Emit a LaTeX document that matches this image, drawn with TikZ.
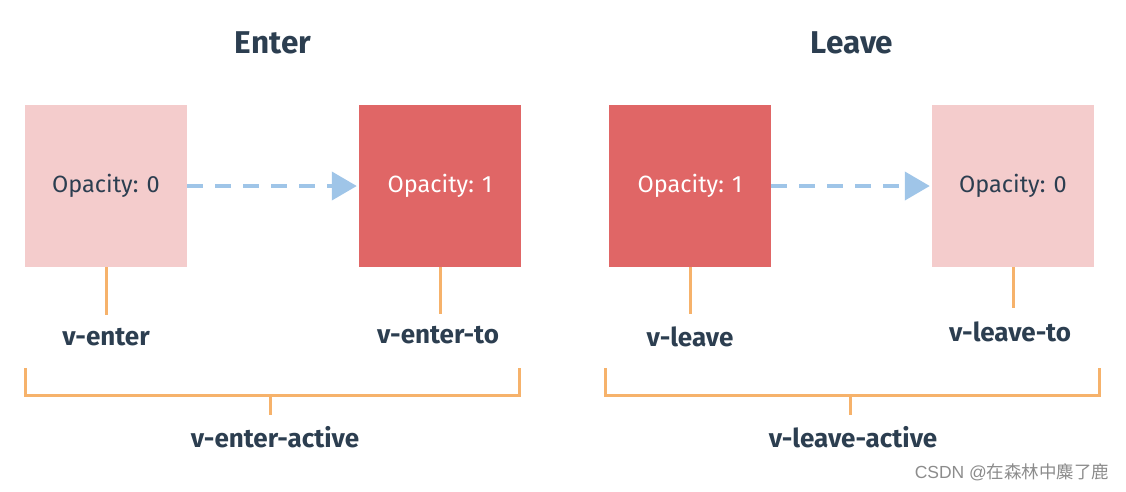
\documentclass[tikz,border=0pt]{standalone}
\usepackage{fontspec}
\setmainfont{Fira Sans}
\newfontfamily\cjk{Noto Sans CJK SC}
\newfontfamily\wmlatin{Liberation Sans}
\usetikzlibrary{arrows.meta}
\definecolor{navy}{HTML}{2C3E50}
\definecolor{lightpink}{HTML}{F4CCCC}
\definecolor{redbox}{HTML}{E06666}
\definecolor{blueline}{HTML}{9FC5E8}
\definecolor{orangeline}{HTML}{F6B26B}
\tikzset{
  boxlight/.style={fill=lightpink, minimum width=162pt, minimum height=162pt, inner sep=0pt, text=navy, font=\fontsize{23.5}{28}\selectfont},
  boxred/.style={fill=redbox, minimum width=162pt, minimum height=162pt, inner sep=0pt, text=white, font=\fontsize{23.5}{28}\selectfont},
  title/.style={text=navy, font=\fontsize{31.5}{36}\selectfont\bfseries},
  lbl/.style={text=navy, font=\fontsize{26}{30}\selectfont\bfseries},
  stem/.style={draw=orangeline, line width=3pt},
  flow/.style={draw=blueline, line width=4pt, dash pattern=on 16pt off 12pt, -{Triangle[length=25pt,width=28pt]}, shorten >=2pt},
}
\begin{document}
\begin{tikzpicture}[x=1pt,y=-1pt]
\useasboundingbox (0,0) rectangle (1126,491);
% titles
\node[title] (tenter) at (273,43) {Enter};
\node[title] (tleave) at (852,43) {Leave};
% boxes
\node[boxlight] (b1) at (106,186) {\raisebox{-2pt}{Opacity: 0}};
\node[boxred]   (b2) at (440,186) {\raisebox{-2pt}{Opacity: 1}};
\node[boxred]   (b3) at (690,186) {\raisebox{-2pt}{Opacity: 1}};
\node[boxlight] (b4) at (1013,186) {\raisebox{-2pt}{Opacity: 0}};
% arrows
\draw[flow] (b1.east) -- (b2.west);
\draw[flow] (b3.east) -- (b4.west);
% labels
\node[lbl] (l1) at (106,337) {v-enter};
\node[lbl] (l2) at (438,335) {v-enter-to};
\node[lbl] (l3) at (690,337) {v-leave};
\node[lbl] (l4) at (1010,332) {v-leave-to};
\node[lbl] (l5) at (275,437) {v-enter-active};
\node[lbl] (l6) at (853,437) {v-leave-active};
% stem ends
\coordinate (s1) at (106,315);
\coordinate (s2) at (440,314);
\coordinate (s3) at (690,314);
\coordinate (s4) at (1013,308);
\draw[stem] (b1.south) -- (s1);
\draw[stem] (b2.south) -- (s2);
\draw[stem] (b3.south) -- (s3);
\draw[stem] (b4.south) -- (s4);
% brackets
\coordinate (a1) at (25.5,368);
\coordinate (a2) at (519.5,368);
\coordinate (am) at (270,395);
\coordinate (ae) at (270,415);
\draw[stem, line join=miter] (a1) |- (a2 |- am) -- (a2);
\draw[stem] (am) -- (ae);
\coordinate (c1) at (605.5,368);
\coordinate (c2) at (1099.5,368);
\coordinate (cm) at (850,395);
\coordinate (ce) at (850,415);
\draw[stem, line join=miter] (c1) |- (c2 |- cm) -- (c2);
\draw[stem] (cm) -- (ce);
% watermark
\node[text=black!45, font=\fontsize{17.5}{20}\selectfont, anchor=east] (wm) at (1113,472) {{\wmlatin CSDN @}{\cjk 在森林中麋了鹿}};
\end{tikzpicture}
\end{document}
